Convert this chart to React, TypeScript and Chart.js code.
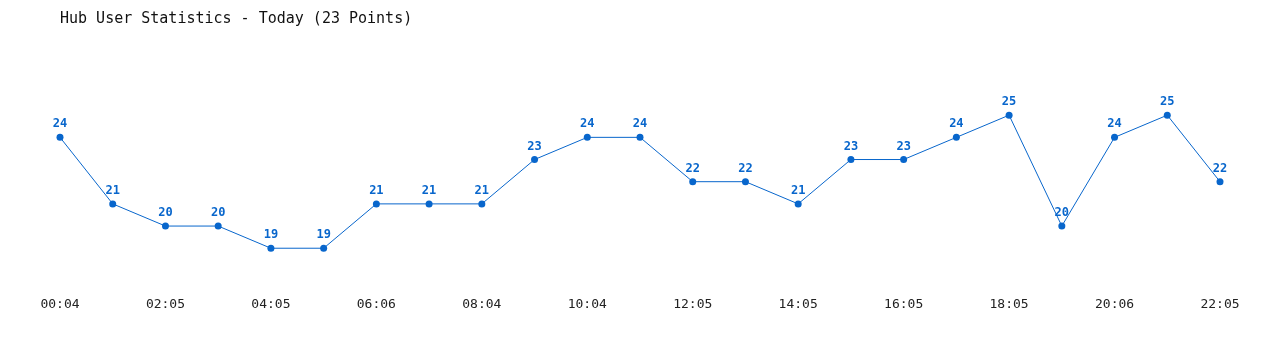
import React, { useEffect, useRef } from "react";
import { Chart, registerables } from "chart.js";

Chart.register(...registerables);

const TITLE = "Hub User Statistics - Today (23 Points)";
const timeLabels = [
  "00:04", "01:05", "02:05", "03:05", "04:05", "05:05", "06:06", "07:05",
  "08:04", "09:04", "10:04", "11:05", "12:05", "13:05", "14:05", "15:05",
  "16:05", "17:05", "18:05", "19:05", "20:06", "21:05", "22:05",
];
const userCounts = [24, 21, 20, 20, 19, 19, 21, 21, 21, 23, 24, 24, 22, 22, 21, 23, 23, 24, 25, 20, 24, 25, 22];

const BLUE = "#0866cc";
const MONO = "'DejaVu Sans Mono', 'Liberation Mono', monospace";

const valueLabelPlugin = {
  id: "valueLabels",
  afterDatasetsDraw(chart: any) {
    const ctx = chart.ctx;
    const meta = chart.getDatasetMeta(0);
    ctx.save();
    ctx.fillStyle = BLUE;
    ctx.font = `bold 12px ${MONO}`;
    ctx.textAlign = "center";
    ctx.textBaseline = "middle";
    meta.data.forEach((pt: any, i: number) => {
      ctx.fillText(String(userCounts[i]), pt.x, pt.y - 13);
    });
    ctx.restore();
  },
};

export default function App() {
  const ref = useRef<HTMLCanvasElement | null>(null);
  useEffect(() => {
    if (!ref.current) return;
    const chart = new Chart(ref.current, {
      type: "line",
      data: {
        labels: timeLabels,
        datasets: [
          {
            data: userCounts,
            borderColor: BLUE,
            backgroundColor: BLUE,
            borderWidth: 1,
            pointRadius: 3.5,
            pointBackgroundColor: BLUE,
            pointBorderWidth: 0,
            tension: 0,
            fill: false,
          },
        ],
      },
      options: {
        responsive: false,
        animation: false,
        layout: { padding: { left: 60, right: 60, top: 0, bottom: 12 } },
        plugins: {
          legend: { display: false },
          tooltip: { enabled: false },
          title: {
            display: true,
            text: TITLE,
            align: "start",
            color: "#111",
            font: { family: MONO, size: 15, weight: "normal" },
            padding: { top: 10, bottom: 65 },
          },
        },
        scales: {
          x: {
            offset: false,
            grid: { display: false, drawTicks: false },
            border: { display: false },
            ticks: {
              autoSkip: false,
              maxRotation: 0,
              padding: 26,
              color: "#222",
              font: { family: MONO, size: 13 },
              callback: (_v: any, i: number) => (i % 2 === 0 ? timeLabels[i] : ""),
            },
          },
          y: {
            display: false,
            min: 18,
            max: 26,
          },
        },
      },
      plugins: [valueLabelPlugin],
    });
    return () => chart.destroy();
  }, []);
  return (
    <div style={{ position: "absolute", left: 0, top: 0, width: 1280, height: 350, background: "#fff" }}>
      <canvas ref={ref} width={1280} height={350} />
    </div>
  );
}
